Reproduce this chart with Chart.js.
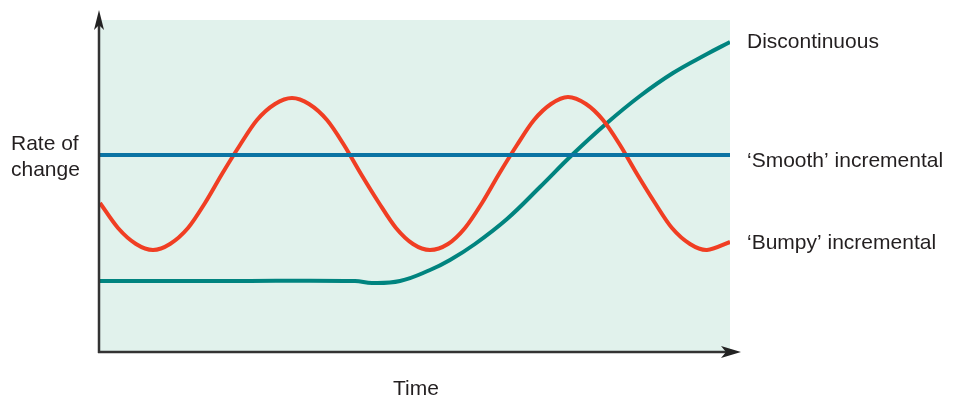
<!DOCTYPE html>
<html>
    <head>
        <title>Rate of change</title>
        <meta charset="UTF-8">
        <script src="https://cdn.jsdelivr.net/npm/chart.js@4.4.0/dist/chart.umd.min.js"></script>
        <style>
            body { margin: 0; background: #ffffff; }
            #wrap { width: 959px; height: 396px; position: relative; }
        </style>
    </head>
    <body>
        <div id="wrap">
            <canvas id="changeChart"></canvas>
        </div>
        <script>
            // time runs 0..630, rate 0..332 (arbitrary units)
            const smoothTime = [0, 630];
            const smoothRate = [197, 197];

            const bumpyTime = [0, 18, 36, 53, 70, 88, 105, 122, 140, 157, 175, 192, 209, 227, 244, 261,
                               279, 296, 313, 330, 348, 365, 382, 399, 417, 434, 451, 468, 486, 503,
                               520, 537, 555, 572, 590, 607, 630];
            const bumpyRate = [149, 124, 108, 102, 108, 124, 149, 178, 207, 232, 248, 254, 248, 232, 207, 178,
                               149, 124, 108, 102, 108, 124, 149, 178, 207, 232, 248, 255, 248, 232,
                               207, 178, 149, 124, 108, 102, 110];

            const discTime = [0, 130, 255, 272, 300, 330, 350, 375, 407, 440, 472, 507, 540, 573, 607, 630];
            const discRate = [71, 71, 71, 69, 71, 82, 92, 108, 133, 165, 197, 229, 256, 279, 298, 310];

            const seriesLabels = ['Discontinuous', '\u2018Smooth\u2019 incremental', '\u2018Bumpy\u2019 incremental'];

            function toPoints(xs, ys) {
                return xs.map((x, i) => ({ x: x, y: ys[i] }));
            }

            const decorPlugin = {
                id: 'decor',
                beforeDatasetsDraw(chart) {
                    const { ctx, chartArea: a } = chart;
                    ctx.save();
                    ctx.fillStyle = '#e1f2ec';
                    ctx.fillRect(a.left, a.top, a.right - a.left, a.bottom - a.top);
                    ctx.restore();
                },
                afterDraw(chart) {
                    const { ctx, chartArea: a } = chart;
                    ctx.save();
                    ctx.strokeStyle = '#333333';
                    ctx.fillStyle = '#222222';
                    ctx.lineWidth = 2.5;
                    // y axis
                    ctx.beginPath();
                    ctx.moveTo(a.left - 1, a.bottom + 1);
                    ctx.lineTo(a.left - 1, 24);
                    ctx.stroke();
                    ctx.beginPath();
                    ctx.moveTo(a.left - 1, 10);
                    ctx.lineTo(a.left - 6, 30);
                    ctx.lineTo(a.left - 1, 25);
                    ctx.lineTo(a.left + 4, 30);
                    ctx.closePath();
                    ctx.fill();
                    // x axis
                    ctx.beginPath();
                    ctx.moveTo(a.left - 2, a.bottom);
                    ctx.lineTo(727, a.bottom);
                    ctx.stroke();
                    ctx.beginPath();
                    ctx.moveTo(741, a.bottom);
                    ctx.lineTo(721, a.bottom - 6);
                    ctx.lineTo(726, a.bottom);
                    ctx.lineTo(721, a.bottom + 6);
                    ctx.closePath();
                    ctx.fill();

                    // texts
                    ctx.fillStyle = '#231f20';
                    ctx.font = '21px "Liberation Sans", Arial, sans-serif';
                    ctx.textBaseline = 'alphabetic';
                    ctx.textAlign = 'left';
                    ctx.fillText('Rate of', 11, 150);
                    ctx.fillText('change', 11, 176);
                    ctx.fillText(seriesLabels[0], 747, 48);
                    ctx.fillText(seriesLabels[1], 747, 167);
                    ctx.fillText(seriesLabels[2], 747, 249);
                    ctx.textAlign = 'center';
                    ctx.fillText('Time', 416, 395);
                    ctx.restore();
                }
            };

            const ctx = document.getElementById('changeChart').getContext('2d');
            const chart = new Chart(ctx, {
                type: 'line',
                data: {
                    datasets: [
                        {
                            label: seriesLabels[1],
                            data: toPoints(smoothTime, smoothRate),
                            borderColor: '#0b74a3',
                            borderWidth: 4
                        },
                        {
                            label: seriesLabels[2],
                            data: toPoints(bumpyTime, bumpyRate),
                            borderColor: '#f03e23',
                            borderWidth: 4,
                            tension: 0.3
                        },
                        {
                            label: seriesLabels[0],
                            data: toPoints(discTime, discRate),
                            borderColor: '#00847f',
                            borderWidth: 4,
                            tension: 0.4
                        }
                    ]
                },
                options: {
                    responsive: true,
                    maintainAspectRatio: false,
                    animation: false,
                    layout: { padding: { left: 100, right: 229, top: 20, bottom: 44 } },
                    elements: {
                        point: { radius: 0 },
                        line: { fill: false }
                    },
                    scales: {
                        x: { type: 'linear', min: 0, max: 630, display: false },
                        y: { min: 0, max: 332, display: false }
                    },
                    plugins: {
                        legend: { display: false },
                        tooltip: { enabled: false }
                    }
                },
                plugins: [decorPlugin]
            });
        </script>
    </body>
</html>
